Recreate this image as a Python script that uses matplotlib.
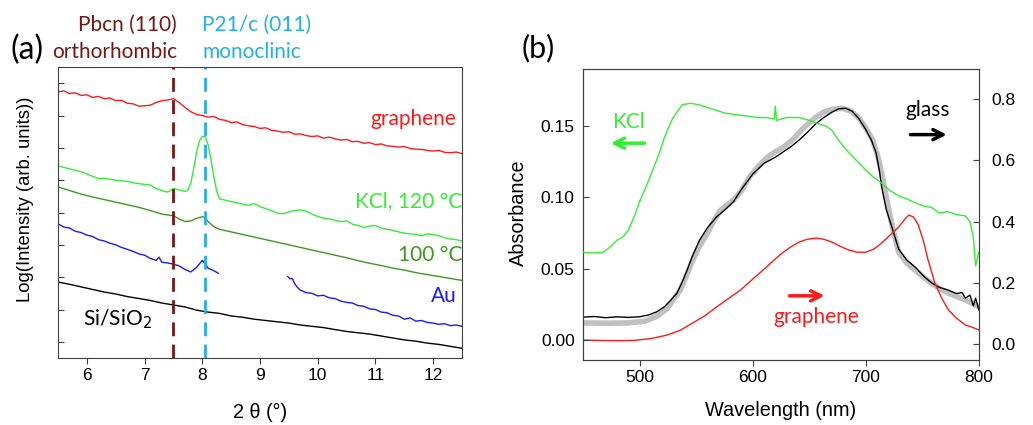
import numpy as np
import matplotlib.pyplot as plt

# ---- panel (a): XRD, 2 theta vs log intensity (offset, arbitrary units)
theta_gr = np.round(np.arange(5.5, 12.51, 0.1), 2)
int_gr = [8.23, 8.26, 8.18, 8.20, 8.12, 8.14, 8.06, 8.09, 8.02, 8.04,
          7.96, 7.97, 7.88, 7.86, 7.79, 7.80, 7.82, 7.90, 7.96, 7.98,
          8.02, 7.90, 7.75, 7.62, 7.53, 7.50, 7.45, 7.47, 7.38, 7.35,
          7.28, 7.30, 7.22, 7.18, 7.16, 7.10, 7.12, 7.04, 7.02, 6.98,
          7.00, 6.92, 6.93, 6.88, 6.85, 6.87, 6.80, 6.83, 6.78, 6.74,
          6.76, 6.69, 6.70, 6.64, 6.66, 6.60, 6.62, 6.56, 6.55, 6.52,
          6.54, 6.48, 6.46, 6.45, 6.42, 6.40, 6.42, 6.36, 6.35, 6.37, 6.32]

theta_k120 = [5.5, 5.7, 5.9, 6.1, 6.2, 6.3, 6.5, 6.7, 6.9, 7.1, 7.2, 7.3, 7.4,
              7.5, 7.6, 7.7, 7.75, 7.8, 7.85, 7.9, 7.95, 8.0, 8.05, 8.1, 8.15,
              8.2, 8.25, 8.3, 8.4, 8.5, 8.6, 8.7, 8.8, 8.9, 9.0, 9.1, 9.2,
              9.3, 9.4, 9.5, 9.6, 9.7, 9.8, 9.9, 10.0, 10.1, 10.2, 10.3,
              10.4, 10.5, 10.6, 10.7, 10.8, 10.9, 11.0, 11.1, 11.2, 11.3,
              11.4, 11.5, 11.6, 11.7, 11.8, 11.9, 12.0, 12.1, 12.2, 12.3,
              12.4, 12.5]
int_k120 = [5.94, 5.85, 5.76, 5.62, 5.55, 5.56, 5.50, 5.46, 5.39, 5.35, 5.24,
            5.18, 5.13, 5.24, 5.20, 5.15, 5.20, 5.40, 5.85, 6.35, 6.72, 6.86,
            6.84, 6.60, 6.15, 5.60, 5.15, 4.92, 4.88, 4.84, 4.80, 4.76, 4.72,
            4.78, 4.68, 4.62, 4.56, 4.48, 4.46, 4.52, 4.56, 4.58, 4.54, 4.45,
            4.38, 4.32, 4.30, 4.26, 4.22, 4.24, 4.14, 4.10, 4.04, 4.08, 4.10,
            4.02, 3.98, 3.95, 3.90, 3.86, 3.84, 3.82, 3.78, 3.84, 3.82, 3.78,
            3.72, 3.68, 3.66, 3.62]

theta_k100 = [5.5, 5.7, 5.9, 6.1, 6.3, 6.5, 6.7, 6.9, 7.1, 7.3, 7.5, 7.6, 7.7,
              7.8, 7.9, 8.0, 8.05, 8.1, 8.2, 8.3, 8.5, 8.7, 8.9, 9.1, 9.3,
              9.5, 9.7, 9.9, 10.1, 10.3, 10.5, 10.7, 10.9, 11.1, 11.3, 11.5,
              11.7, 11.9, 12.1, 12.3, 12.5]
int_k100 = [5.29, 5.18, 5.07, 4.98, 4.90, 4.82, 4.74, 4.66, 4.56, 4.45, 4.40,
            4.30, 4.22, 4.24, 4.32, 4.37, 4.34, 4.22, 4.06, 3.98, 3.90, 3.82,
            3.74, 3.66, 3.58, 3.50, 3.42, 3.34, 3.26, 3.18, 3.10, 3.01, 2.93,
            2.86, 2.78, 2.72, 2.64, 2.58, 2.52, 2.46, 2.40]

theta_au1 = [5.5, 5.6, 5.7, 5.8, 5.9, 6.0, 6.1, 6.2, 6.3, 6.4, 6.5, 6.6, 6.7,
             6.8, 6.9, 7.0, 7.1, 7.2, 7.25, 7.3, 7.4, 7.5, 7.6, 7.7, 7.8,
             7.9, 8.0, 8.05, 8.1, 8.2, 8.28]
int_au1 = [4.15, 4.05, 4.02, 3.92, 3.88, 3.80, 3.76, 3.66, 3.62, 3.55, 3.50,
           3.42, 3.36, 3.30, 3.22, 3.18, 3.08, 3.02, 3.12, 2.96, 2.94, 2.90,
           2.85, 2.74, 2.66, 2.80, 3.02, 2.92, 2.78, 2.70, 2.62]
theta_au2 = [9.48, 9.52, 9.56, 9.6, 9.65, 9.7, 9.8, 9.9, 10.0, 10.1, 10.2,
             10.3, 10.4, 10.5, 10.6, 10.7, 10.8, 10.9, 11.0, 11.1, 11.2, 11.3,
             11.4, 11.5, 11.6, 11.7, 11.8, 11.9, 12.0, 12.1, 12.2, 12.3, 12.4,
             12.5]
int_au2 = [2.52, 2.45, 2.46, 2.30, 2.18, 2.10, 2.02, 2.00, 1.92, 1.94, 1.86,
           1.84, 1.76, 1.72, 1.70, 1.62, 1.60, 1.52, 1.50, 1.42, 1.40, 1.32,
           1.30, 1.20, 1.24, 1.14, 1.16, 1.10, 1.08, 1.04, 1.06, 1.00, 1.02,
           0.98]

theta_si = [5.5, 5.7, 5.9, 6.1, 6.3, 6.5, 6.7, 6.9, 7.1, 7.3, 7.5, 7.7, 7.9,
            8.1, 8.3, 8.5, 8.7, 8.9, 9.1, 9.3, 9.5, 9.7, 9.9, 10.1, 10.3,
            10.5, 10.7, 10.9, 11.1, 11.3, 11.5, 11.7, 11.9, 12.1, 12.3, 12.5]
int_si = [2.35, 2.28, 2.20, 2.12, 2.04, 1.98, 1.90, 1.84, 1.78, 1.70, 1.64,
          1.58, 1.48, 1.42, 1.38, 1.30, 1.26, 1.20, 1.16, 1.12, 1.08, 1.02,
          0.98, 0.94, 0.88, 0.82, 0.78, 0.74, 0.68, 0.62, 0.56, 0.52, 0.46,
          0.42, 0.36, 0.30]

peak_ortho = 7.5
peak_mono = 8.05

# ---- panel (b): absorbance spectra
wl_kcl = [450, 460, 468, 475, 480, 485, 490, 495, 500, 506, 512, 517, 521,
          525, 529, 534, 538, 545, 552, 560, 568, 576, 585, 595, 605, 612,
          619, 620, 621, 630, 641, 650, 660, 665, 670, 676, 682, 688, 694,
          700, 707, 714, 721, 729, 736, 744, 751, 758, 765, 772, 780, 788,
          792, 795, 797, 800]
abs_kcl = [0.0615, 0.0610, 0.0615, 0.066, 0.070, 0.072, 0.077, 0.086, 0.097,
           0.108, 0.120, 0.130, 0.140, 0.148, 0.155, 0.161, 0.165, 0.166,
           0.165, 0.163, 0.161, 0.159, 0.158, 0.157, 0.156, 0.156, 0.155,
           0.164, 0.154, 0.156, 0.156, 0.154, 0.151, 0.150, 0.147, 0.140,
           0.134, 0.129, 0.124, 0.119, 0.114, 0.110, 0.105, 0.101, 0.099,
           0.096, 0.094, 0.093, 0.089, 0.090, 0.088, 0.087, 0.083, 0.072,
           0.052, 0.062]

wl_glass = [450, 460, 470, 480, 490, 500, 508, 515, 522, 528, 533, 538, 542,
            547, 553, 560, 568, 576, 583, 590, 600, 610, 620, 626, 634, 641,
            648, 656, 663, 670, 676, 682, 688, 694, 700, 705, 709, 712, 714,
            718, 723, 729, 736, 744, 751, 758, 765, 773, 780, 785, 788, 792,
            795, 797, 800]
abs_glass = [0.088, 0.090, 0.086, 0.089, 0.087, 0.089, 0.095, 0.105, 0.122,
             0.145, 0.166, 0.205, 0.241, 0.290, 0.339, 0.380, 0.415, 0.440,
             0.465, 0.505, 0.555, 0.590, 0.610, 0.625, 0.645, 0.666, 0.690,
             0.720, 0.740, 0.757, 0.768, 0.770, 0.760, 0.735, 0.700, 0.665,
             0.625, 0.565, 0.512, 0.440, 0.382, 0.310, 0.275, 0.250, 0.222,
             0.200, 0.185, 0.176, 0.165, 0.168, 0.150, 0.160, 0.125, 0.150,
             0.110]

wl_fit = [450, 470, 490, 505, 515, 524, 530, 536, 541, 547, 553, 560, 566,
          571, 583, 590, 597, 605, 612, 620, 626, 635, 645, 656, 663, 670,
          679, 687, 694, 700, 706, 710, 714, 718, 723, 729, 736, 744, 751,
          758, 765, 773, 780, 788, 795, 800]
abs_fit = [0.069, 0.068, 0.069, 0.075, 0.090, 0.115, 0.145, 0.176, 0.220,
           0.274, 0.320, 0.362, 0.405, 0.435, 0.470, 0.500, 0.545, 0.580,
           0.607, 0.628, 0.640, 0.666, 0.706, 0.741, 0.757, 0.766, 0.770,
           0.760, 0.737, 0.705, 0.666, 0.620, 0.558, 0.480, 0.390, 0.300,
           0.265, 0.240, 0.218, 0.199, 0.182, 0.166, 0.156, 0.144, 0.131,
           0.121]

wl_gr = [450, 465, 480, 495, 510, 524, 536, 547, 558, 568, 579, 589, 600,
         612, 620, 626, 634, 641, 648, 656, 663, 670, 678, 685, 692, 700,
         707, 714, 722, 729, 735, 738, 742, 746, 751, 755, 761, 767, 773,
         780, 788, 794, 800]
abs_gr = [0.013, 0.012, 0.011, 0.012, 0.018, 0.029, 0.045, 0.069, 0.093,
          0.121, 0.150, 0.176, 0.212, 0.251, 0.278, 0.297, 0.318, 0.333,
          0.342, 0.346, 0.342, 0.333, 0.318, 0.307, 0.300, 0.300, 0.310,
          0.330, 0.358, 0.382, 0.410, 0.421, 0.415, 0.392, 0.335, 0.274,
          0.199, 0.150, 0.111, 0.085, 0.062, 0.055, 0.046]

W, H = 1033, 425
lab_font = 'Lato'
tick_font = 'Liberation Sans'
spine_col = '#404040'
tick_size = 12.5
axlab_size = 14.3

plt.rcParams['font.family'] = tick_font
fig = plt.figure(figsize=(W / 100, H / 100), dpi=100)

def fx(px):
    return px / W

def fy(py):
    return 1 - py / H

# ---------------- (a)
ax = fig.add_axes([fx(58), fy(358), fx(404), 291 / H])
ax.plot(theta_gr, int_gr, color='#ff1a1a', lw=1)
ax.plot(theta_k120, int_k120, color='#33ee33', lw=1)
ax.plot(theta_k100, int_k100, color='#3d9a1e', lw=1)
ax.plot(theta_au1, int_au1, color='#1a1aff', lw=1)
ax.plot(theta_au2, int_au2, color='#1a1aff', lw=1)
ax.plot(theta_si, int_si, color='black', lw=1)
ax.axvline(peak_ortho, color='#7a1515', ls=(0, (5, 3)), lw=2)
ax.axvline(peak_mono, color='#22b0ea', ls=(0, (5, 3)), lw=2)
ax.set_xlim(5.5, 12.5)
ax.set_ylim(0, 9)
ax.set_xticks(range(6, 13))
ax.set_yticks(np.arange(0.5, 9, 1.0))
ax.set_yticklabels([])
ax.tick_params(axis='x', direction='out', labelsize=tick_size, length=4, color=spine_col)
ax.tick_params(axis='y', direction='in', length=4, color=spine_col)
for s in ax.spines.values():
    s.set_color(spine_col)

ax.text(12.4, 7.4, 'graphene', color='#ff1a1a', ha='right', va='center',
        fontsize=15, family=lab_font)
ax.text(12.5, 4.85, 'KCl, 120 °C', color='#33ee33', ha='right', va='center',
        fontsize=15, family=lab_font)
ax.text(12.5, 3.2, '100 °C', color='#3d9a1e', ha='right', va='center',
        fontsize=15, family=lab_font)
ax.text(12.4, 1.92, 'Au', color='#1a1aff', ha='right', va='center',
        fontsize=15, family=lab_font)
ax.text(5.93, 1.2, 'Si/SiO$_2$', color='black', ha='left', va='center',
        fontsize=15, family=lab_font)

fig.text(fx(26), fy(199), 'Log(Intensity (arb. units))', rotation=90,
         ha='center', va='center', fontsize=13.3)
fig.text(fx(260), fy(412), '2 θ (°)', ha='center', va='center',
         fontsize=axlab_size)
fig.text(fx(177), fy(25), 'Pbcn (110)', color='#7a1515', ha='right',
         va='center', fontsize=15, family=lab_font)
fig.text(fx(177), fy(52), 'orthorhombic', color='#7a1515', ha='right',
         va='center', fontsize=15, family=lab_font)
fig.text(fx(202), fy(25), 'P21/c (011)', color='#22b0ea', ha='left',
         va='center', fontsize=15, family=lab_font)
fig.text(fx(202), fy(52), 'monoclinic', color='#22b0ea', ha='left',
         va='center', fontsize=15, family=lab_font)
fig.text(fx(10), fy(50), '(a)', ha='left', va='center', fontsize=23,
         family=lab_font)

# ---------------- (b)
bx = fig.add_axes([fx(583), fy(360), fx(396), 291 / H])
bx2 = bx.twinx()
bx.plot(wl_kcl, abs_kcl, color='#33ee33', lw=1, zorder=3)
bx2.plot(wl_fit, abs_fit, color='#c0c0c0', lw=4, solid_capstyle='round')
bx2.plot(wl_glass, abs_glass, color='black', lw=1)
bx2.plot(wl_gr, abs_gr, color='#ff1a1a', lw=1)
bx.set_zorder(bx2.get_zorder() + 1)
bx.patch.set_visible(False)

bx.set_xlim(450, 800)
bx.set_ylim(-0.014, 0.19)
bx2.set_ylim(-0.052, 0.898)
bx.set_xticks([500, 600, 700, 800])
bx.set_yticks([0.0, 0.05, 0.10, 0.15])
bx.set_yticklabels(['0.00', '0.05', '0.10', '0.15'])
bx2.set_yticks([0.0, 0.2, 0.4, 0.6, 0.8])
bx2.set_yticklabels(['0.0', '0.2', '0.4', '0.6', '0.8'])
bx.tick_params(axis='x', direction='out', labelsize=tick_size, length=4, color=spine_col)
bx.tick_params(axis='y', direction='in', labelsize=tick_size, length=4, color=spine_col, pad=6)
bx2.tick_params(axis='y', direction='in', labelsize=tick_size, length=4, color=spine_col, pad=9)
for a in (bx, bx2):
    for s in a.spines.values():
        s.set_color(spine_col)
fig.text(fx(781), fy(410), 'Wavelength (nm)', ha='center', va='center',
         fontsize=axlab_size)
fig.text(fx(518), fy(213), 'Absorbance', rotation=90, ha='center',
         va='center', fontsize=axlab_size)

bx.text(490, 0.153, 'KCl', color='#33ee33', ha='center', va='center',
        fontsize=15, family=lab_font)
bx.annotate('', xy=(472, 0.138), xytext=(507, 0.138),
            arrowprops=dict(arrowstyle='->', color='#33ee33', lw=2.5,
                            mutation_scale=18))
bx.text(755, 0.161, 'glass', color='black', ha='center', va='center',
        fontsize=15, family=lab_font)
bx.annotate('', xy=(774, 0.144), xytext=(737, 0.144),
            arrowprops=dict(arrowstyle='->', color='black', lw=2.5,
                            mutation_scale=18))
bx.text(656, 0.016, 'graphene', color='#ff1a1a', ha='center', va='center',
        fontsize=15, family=lab_font)
bx.annotate('', xy=(666, 0.031), xytext=(630, 0.031),
            arrowprops=dict(arrowstyle='->', color='#ff1a1a', lw=2.5,
                            mutation_scale=18))
fig.text(fx(522), fy(48), '(b)', ha='left', va='center', fontsize=22,
         family=lab_font)

fig.savefig('out.png', dpi=100)
